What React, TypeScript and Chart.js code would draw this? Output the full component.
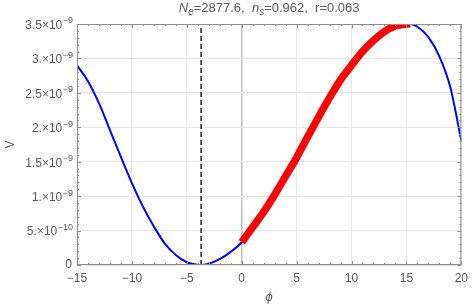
import React, { useEffect, useRef } from "react";
import { Chart, registerables } from "chart.js";

Chart.register(...registerables);

// field values (phi) and potential V in units of 1e-9
const phi = [
  -15, -14, -13, -12, -11, -10, -9, -8, -7, -6, -5, -4, -3.7, -3, -2, -1, 0, 1, 2, 3, 4, 5, 6, 7, 8, 9, 10,
  11, 12, 13, 14, 15, 15.3, 16, 17, 18, 19, 20,
];
const potential = [
  2.9, 2.67, 2.35, 1.96, 1.57, 1.19, 0.85, 0.56, 0.31, 0.145, 0.04, 0.004, 0, 0.02, 0.085, 0.19, 0.33, 0.55,
  0.77, 1.02, 1.29, 1.56, 1.86, 2.15, 2.43, 2.69, 2.9, 3.1, 3.26, 3.39, 3.47, 3.5, 3.505, 3.46, 3.31, 3.03,
  2.58, 1.8,
];
// inflationary segment (red)
const inflationStart = 0;
const inflationEnd = 15.3;
// position of the minimum (dashed line)
const minimumPhi = -3.7;

const xTickValues = [-15, -10, -5, 0, 5, 10, 15, 20];
const yTickValues = [0, 0.5, 1, 1.5, 2, 2.5, 3, 3.5];
const yTickMantissa = ["0", "5.", "1.", "1.5", "2.", "2.5", "3.", "3.5"];
const yTickExponent = ["", "−10", "−9", "−9", "−9", "−9", "−9", "−9"];

const titleParts = [
  { text: "N", italic: true, sub: false },
  { text: "e", italic: true, sub: true },
  { text: "=2877.6,  ", italic: false, sub: false },
  { text: "n", italic: true, sub: false },
  { text: "s", italic: true, sub: true },
  { text: "=0.962,  r=0.063", italic: false, sub: false },
];

const FONT = "'Liberation Sans', Arial, sans-serif";
const TEXT = "#5a5a5a";
const FRAME = "#8f8f8f";

const decor = {
  id: "decor",
  afterDatasetsDraw(chart: any) {
    const { ctx, chartArea: a, scales } = chart;
    const x = scales.x;
    const y = scales.y;
    ctx.save();
    ctx.strokeStyle = FRAME;
    ctx.lineWidth = 1;
    ctx.beginPath();
    ctx.rect(a.left + 0.5, a.top + 0.5, a.right - a.left - 1, a.bottom - a.top - 1);
    ctx.stroke();
    ctx.beginPath();
    for (let v = -15; v <= 20; v += 1) {
      const px = Math.round(x.getPixelForValue(v)) + 0.5;
      const len = v % 5 === 0 ? 4 : 2;
      ctx.moveTo(px, a.bottom);
      ctx.lineTo(px, a.bottom - len);
      ctx.moveTo(px, a.top);
      ctx.lineTo(px, a.top + len);
    }
    for (let i = 0; i <= 35; i++) {
      const v = i / 10;
      const py = Math.round(y.getPixelForValue(v)) + 0.5;
      const len = i % 5 === 0 ? 4 : 2;
      ctx.moveTo(a.left, py);
      ctx.lineTo(a.left + len, py);
      ctx.moveTo(a.right, py);
      ctx.lineTo(a.right - len, py);
    }
    ctx.stroke();
    ctx.restore();
  },
  afterDraw(chart: any) {
    const { ctx, chartArea: a, scales } = chart;
    const y = scales.y;
    ctx.save();
    ctx.fillStyle = TEXT;
    ctx.textBaseline = "middle";
    // y tick labels with exponents
    const right = a.left - 4;
    yTickValues.forEach((v, i) => {
      const py = y.getPixelForValue(v);
      const exp = yTickExponent[i];
      ctx.font = `9px ${FONT}`;
      const ew = exp ? ctx.measureText(exp).width : 0;
      if (exp) {
        ctx.textAlign = "left";
        ctx.fillText(exp, right - ew, py - 3);
      }
      ctx.font = `12px ${FONT}`;
      ctx.textAlign = "right";
      const main = exp ? yTickMantissa[i] + "×10" : yTickMantissa[i];
      ctx.fillText(main, right - ew - (exp ? 0.5 : 1), exp ? py + 1.5 : py);
    });
    // axis titles
    ctx.font = `12px ${FONT}`;
    ctx.textAlign = "center";
    ctx.save();
    ctx.translate(11, (a.top + a.bottom) / 2);
    ctx.rotate(-Math.PI / 2);
    ctx.fillText("V", 0, 0);
    ctx.restore();
    ctx.font = `italic 13px ${FONT}`;
    ctx.fillText("ϕ", (a.left + a.right) / 2, 297);
    // title
    const fontFor = (p: any) => `${p.italic ? "italic " : ""}${p.sub ? 10 : 13}px ${FONT}`;
    let total = 0;
    titleParts.forEach((p) => {
      ctx.font = fontFor(p);
      total += ctx.measureText(p.text).width;
    });
    let tx = (a.left + a.right) / 2 - total / 2;
    ctx.textAlign = "left";
    ctx.textBaseline = "alphabetic";
    titleParts.forEach((p) => {
      ctx.font = fontFor(p);
      ctx.fillText(p.text, tx, p.sub ? 15 : 12);
      tx += ctx.measureText(p.text).width;
    });
    ctx.restore();
  },
};

export default function App() {
  const ref = useRef<HTMLCanvasElement>(null);
  useEffect(() => {
    document.body.style.margin = "0";
    const points = phi.map((p, i) => ({ x: p, y: potential[i] }));
    const redPoints = points.filter((pt) => pt.x >= inflationStart && pt.x <= inflationEnd);
    const chart = new Chart(ref.current as HTMLCanvasElement, {
      type: "line",
      data: {
        datasets: [
          {
            data: redPoints,
            borderColor: "#ff0000",
            borderWidth: 7.5,
            borderCapStyle: "butt",
            pointRadius: 0,
            cubicInterpolationMode: "monotone",
            clip: 0,
          } as any,
          {
            data: points,
            borderColor: "#0000ff",
            borderWidth: 2,
            pointRadius: 0,
            cubicInterpolationMode: "monotone",
            clip: 0,
          } as any,
          {
            data: [
              { x: minimumPhi, y: 0 },
              { x: minimumPhi, y: 3.5 },
            ],
            borderColor: "#000000",
            borderWidth: 1.3,
            borderDash: [5, 3],
            pointRadius: 0,
            clip: 0,
          } as any,
        ],
      },
      options: {
        animation: false,
        responsive: false,
        events: [],
        layout: { padding: { left: 0, top: 24, right: 8, bottom: 0 } },
        plugins: { legend: { display: false }, tooltip: { enabled: false }, title: { display: false } },
        scales: {
          x: {
            type: "linear",
            min: -15,
            max: 20,
            afterBuildTicks: (s: any) => {
              s.ticks = xTickValues.map((v) => ({ value: v }));
            },
            afterFit: (s: any) => {
              s.height = 41;
            },
            border: { display: false },
            grid: {
              drawTicks: false,
              color: (c: any) => (c.tick && c.tick.value === 0 ? "#bdbdbd" : "#e6e6e6"),
              lineWidth: (c: any) => (c.tick && c.tick.value === 0 ? 1.5 : 1),
            },
            ticks: {
              autoSkip: false,
              maxRotation: 0,
              padding: 6,
              color: TEXT,
              font: { family: FONT, size: 12 },
              callback: (v: any) => (v < 0 ? "−" + Math.abs(v) : String(v)),
            },
          },
          y: {
            type: "linear",
            min: 0,
            max: 3.5,
            afterBuildTicks: (s: any) => {
              s.ticks = yTickValues.map((v) => ({ value: v }));
            },
            afterFit: (s: any) => {
              s.width = 77;
            },
            border: { display: false },
            grid: { drawTicks: false, color: "#e6e6e6" },
            ticks: { display: false },
          },
        },
      },
      plugins: [decor],
    } as any);
    return () => chart.destroy();
  }, []);
  return (
    <div style={{ width: 474, height: 306, background: "#ffffff" }}>
      <canvas ref={ref} width={474} height={306} />
    </div>
  );
}
